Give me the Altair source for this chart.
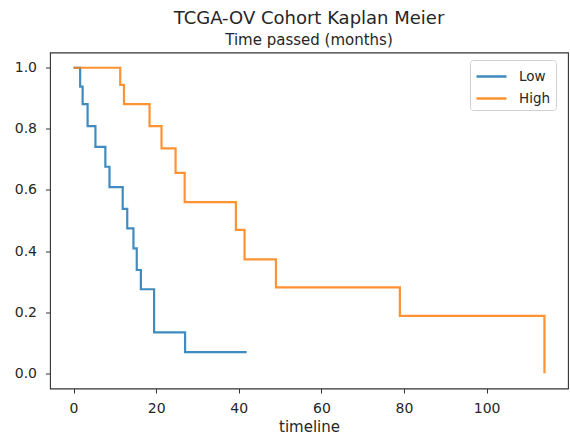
import altair as alt
import pandas as pd

# Kaplan-Meier step points
low_t = [0.0, 1.6, 2.2, 3.4, 5.3, 7.7, 8.7, 11.9, 13.0, 14.5, 15.3, 16.3, 19.5, 27.0, 41.9]
low_s = [1.0, 0.938, 0.881, 0.809, 0.741, 0.676, 0.609, 0.538, 0.474, 0.409, 0.338, 0.275, 0.134, 0.069, 0.069]
high_t = [0.0, 11.3, 12.2, 18.4, 21.3, 24.7, 26.9, 39.3, 41.4, 49.0, 79.0, 114.0]
high_s = [1.0, 0.944, 0.881, 0.809, 0.736, 0.656, 0.560, 0.469, 0.373, 0.281, 0.188, 0.0]

groups = ["Low", "High"]
colors = ["#1f77b4", "#ff7f0e"]
x_ticks = [0, 20, 40, 60, 80, 100]
y_ticks = [0.0, 0.2, 0.4, 0.6, 0.8, 1.0]

rows = []
order = 0
for t, s in zip(low_t, low_s):
    rows.append({"timeline": t, "survival": s, "group": "Low", "ord": order}); order += 1
for t, s in zip(high_t, high_s):
    rows.append({"timeline": t, "survival": s, "group": "High", "ord": order}); order += 1
df = pd.DataFrame(rows)

font = "DejaVu Sans"
txt = "#262626"

chart = alt.Chart(df).mark_line(
    interpolate="step-after", strokeWidth=2.2, opacity=0.85
).encode(
    x=alt.X("timeline:Q",
            scale=alt.Scale(domain=[-5.7, 119.7], nice=False, zero=False),
            axis=alt.Axis(values=x_ticks, title="timeline", format="d", grid=False,
                          domain=False, tickSize=4.5, tickColor="#333",
                          labelPadding=8, labelFontSize=14, labelColor=txt,
                          titleFontSize=15, titleFontWeight="normal", titleColor=txt,
                          titlePadding=4, labelFont=font, titleFont=font)),
    y=alt.Y("survival:Q",
            scale=alt.Scale(domain=[-0.05, 1.05], nice=False, zero=False),
            axis=alt.Axis(values=y_ticks, title=None, format=".1f", grid=False,
                          domain=False, tickSize=4.5, tickColor="#333",
                          labelPadding=9, labelFontSize=14, labelColor=txt,
                          labelFont=font)),
    color=alt.Color("group:N",
                    scale=alt.Scale(domain=groups, range=colors),
                    legend=alt.Legend(title=None, orient="none", legendX=420, legendY=7.5,
                                      symbolType="M-1,0L2,0", symbolSize=400,
                                      symbolStrokeWidth=2.5, labelFontSize=13.5,
                                      labelFont=font, labelColor=txt,
                                      fillColor="white", strokeColor="#d0d0d0",
                                      cornerRadius=3, padding=5, labelOffset=21,
                                      rowPadding=4)),
    order=alt.Order("ord:Q"),
).properties(
    width=518, height=336,
    title=alt.TitleParams("TCGA-OV Cohort Kaplan Meier", subtitle="Time passed (months)",
                          fontSize=18, subtitleFontSize=15, font=font, subtitleFont=font,
                          fontWeight="normal", color=txt, subtitleColor=txt,
                          anchor="middle", offset=5, subtitlePadding=5),
    autosize=alt.AutoSizeParams(type="none"),
    padding={"left": 50, "top": 52.5, "right": 2, "bottom": 49.5},
).configure_view(stroke="#333", strokeWidth=1.1)

chart.save("out.html", embed_options={"renderer": "svg", "actions": False})
